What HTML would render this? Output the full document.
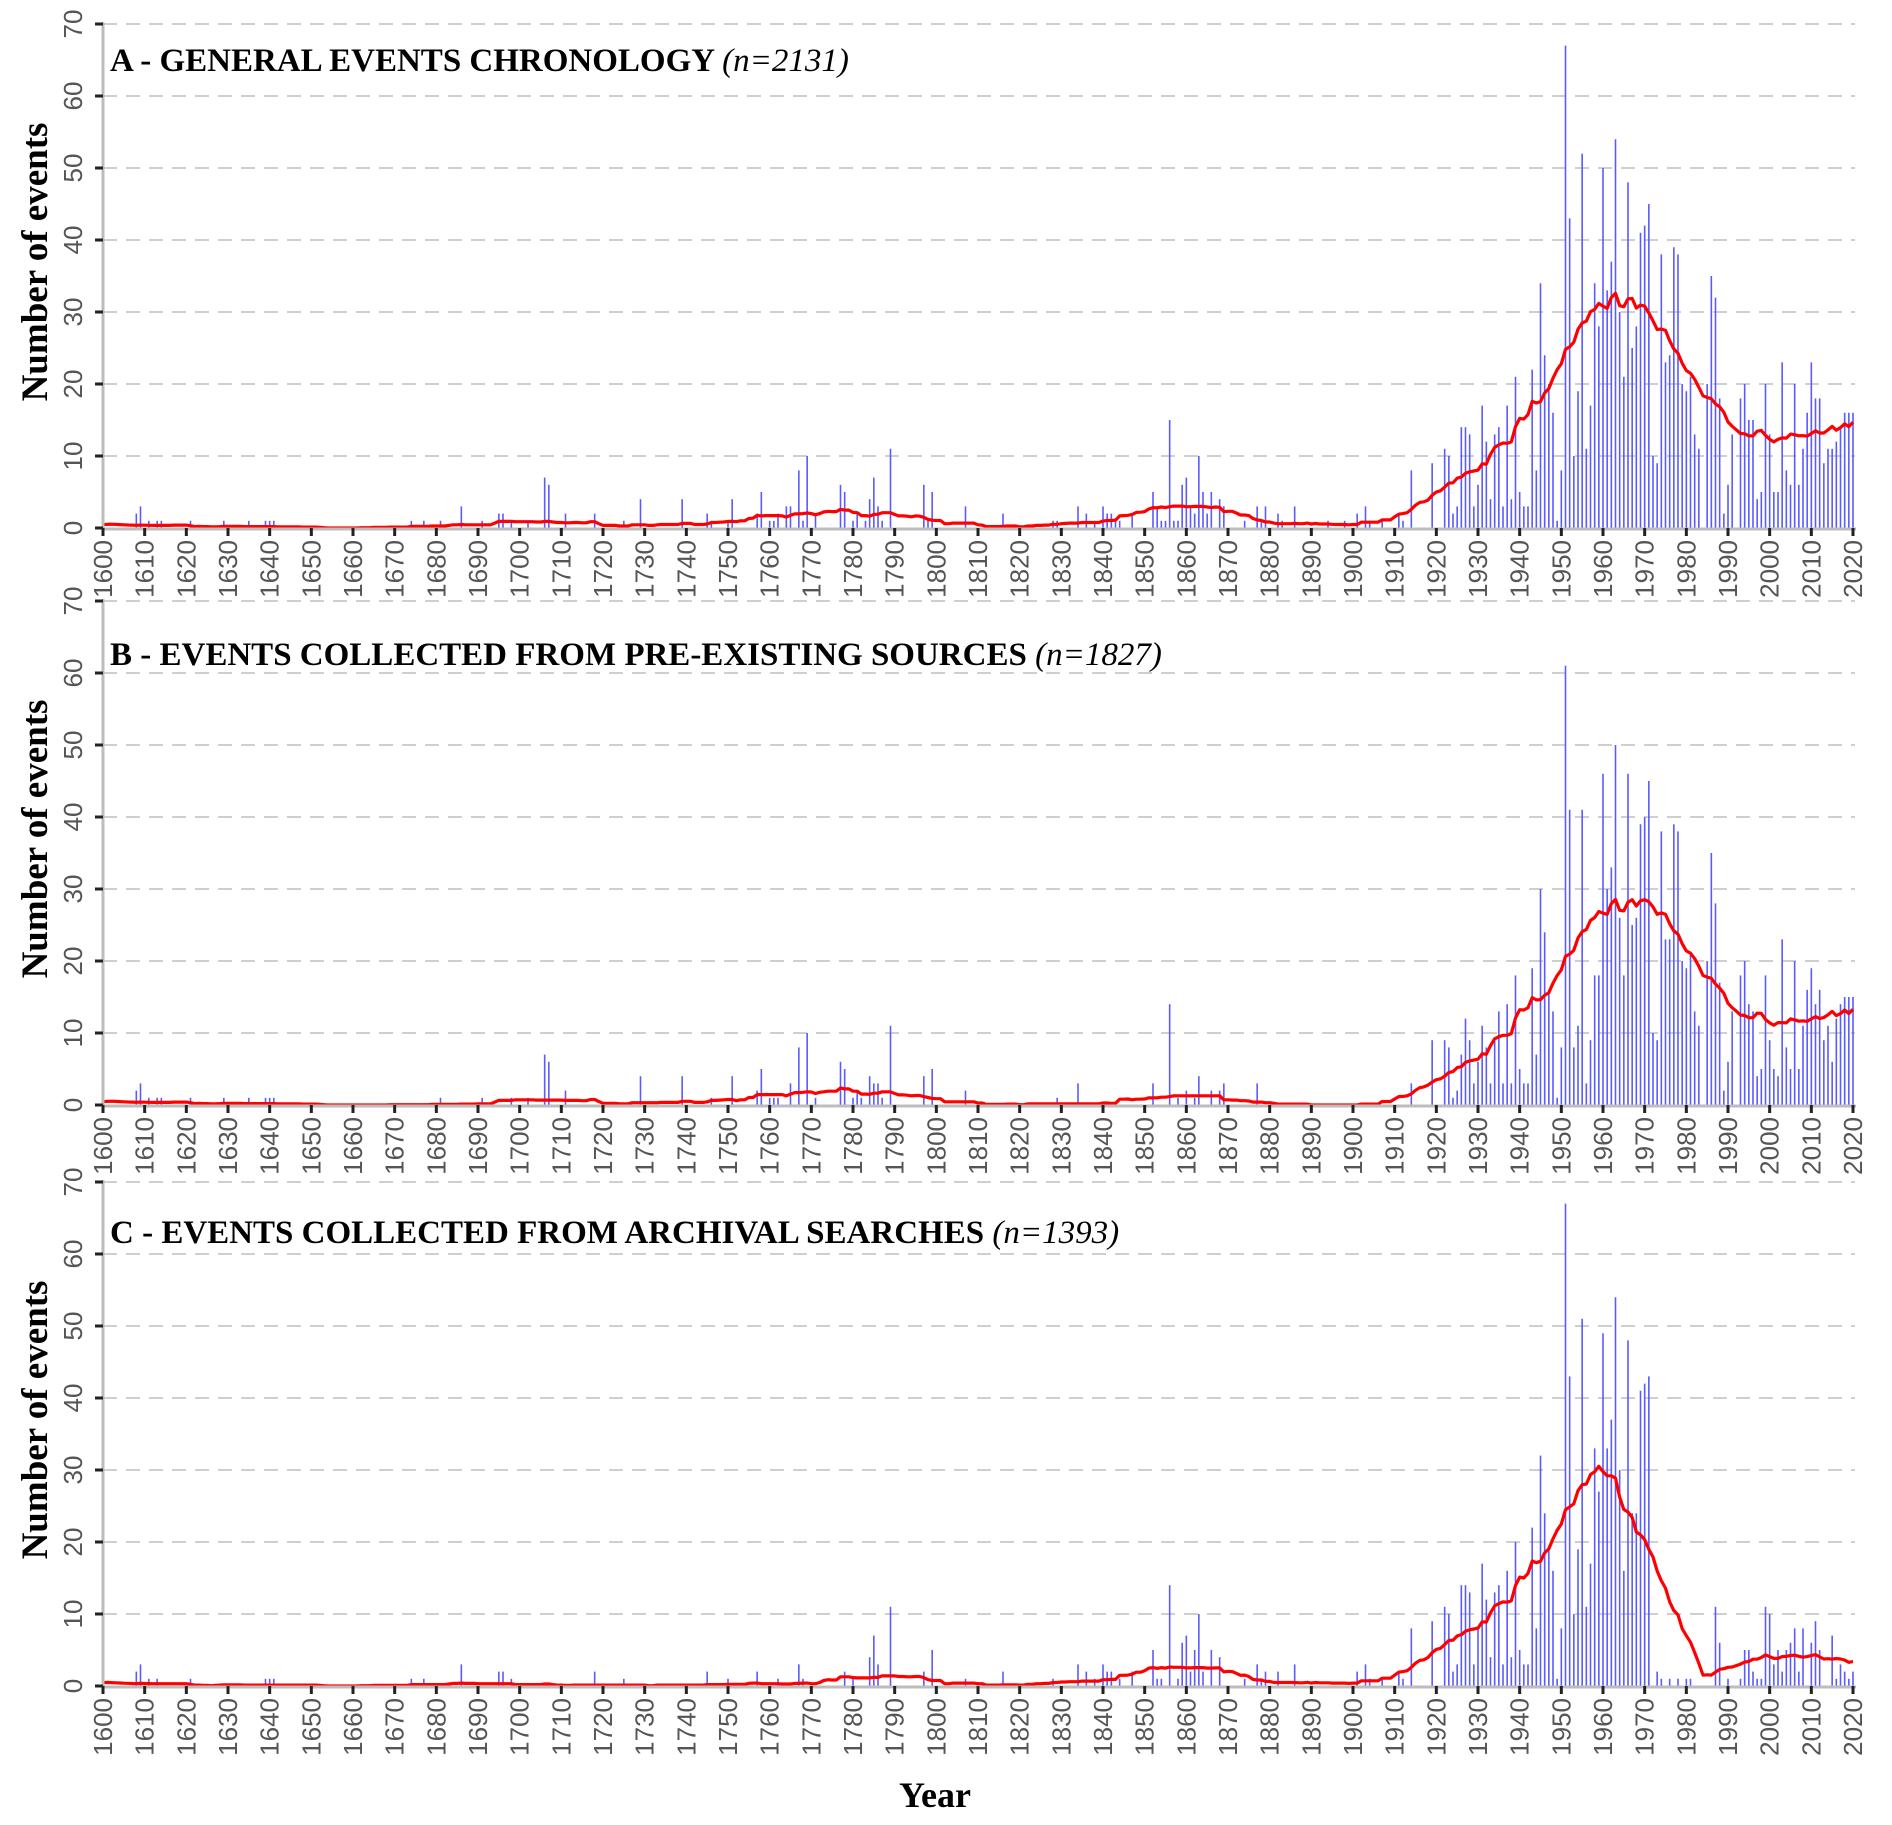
<!DOCTYPE html>
<html><head><meta charset="utf-8"><style>
html,body{margin:0;padding:0;background:#fff;}
svg{display:block;}
</style></head><body>
<svg id="chart" width="1892" height="1825" viewBox="0 0 1892 1825" xmlns="http://www.w3.org/2000/svg"></svg>
<script>
// ---- data (year, count) ----
const dataA = [[1608,2],[1609,3],[1611,1],[1613,1],[1614,1],[1621,1],[1629,1],[1635,1],[1639,1],[1640,1],[1641,1],[1674,1],[1677,1],[1681,1],[1686,3],[1691,1],[1695,2],[1696,2],[1698,1],[1702,1],[1706,7],[1707,6],[1711,2],[1718,2],[1725,1],[1729,4],[1739,4],[1745,2],[1746,1],[1750,1],[1751,4],[1757,2],[1758,5],[1760,1],[1761,1],[1762,2],[1764,3],[1765,3],[1767,8],[1768,1],[1769,10],[1771,2],[1777,6],[1778,5],[1780,1],[1781,2],[1783,1],[1784,4],[1785,7],[1786,3],[1787,1],[1789,11],[1797,6],[1798,1],[1799,5],[1807,3],[1816,2],[1828,1],[1829,1],[1834,3],[1836,2],[1838,1],[1840,3],[1841,2],[1842,2],[1843,1],[1844,1],[1847,2],[1852,5],[1853,3],[1854,1],[1855,1],[1856,15],[1857,1],[1858,1],[1859,6],[1860,7],[1861,3],[1862,2],[1863,10],[1864,5],[1865,2],[1866,5],[1868,4],[1869,3],[1874,1],[1877,3],[1878,1],[1879,3],[1882,2],[1883,1],[1886,3],[1894,1],[1898,1],
[1901,2],[1903,3],[1904,1],[1907,1],[1911,2],[1912,1],[1914,8],[1919,9],[1922,11],[1923,10],[1924,2],[1925,3],[1926,14],[1927,14],[1928,13],[1929,3],[1930,6],[1931,17],[1932,12],[1933,4],[1934,13],[1935,14],[1936,3],[1937,17],[1938,4],[1939,21],[1940,5],[1941,3],[1942,3],[1943,22],[1944,8],[1945,34],[1946,24],[1947,20],[1948,16],[1949,1],[1950,8],[1951,67],[1952,43],[1953,10],[1954,19],[1955,52],[1956,11],[1957,17],[1958,34],[1959,28],[1960,50],[1961,33],[1962,37],[1963,54],[1964,30],[1965,21],[1966,48],[1967,25],[1968,28],[1969,41],[1970,42],[1971,45],[1972,10],[1973,9],[1974,38],[1975,23],[1976,24],[1977,39],[1978,38],[1979,20],[1980,19],[1981,21],[1982,13],[1983,11],[1985,20],[1986,35],[1987,32],[1988,18],[1989,2],[1990,6],[1991,13],[1993,18],[1994,20],[1995,15],[1996,15],[1997,4],[1998,5],[1999,20],[2000,13],[2001,5],[2002,5],[2003,23],[2004,8],[2005,6],[2006,20],[2007,6],[2008,11],[2009,16],[2010,23],[2011,18],[2012,18],[2013,9],[2014,11],[2015,11],[2016,12],[2017,14],[2018,16],[2019,16],[2020,16]];

const dataB = [[1608,2],[1609,3],[1611,1],[1613,1],[1614,1],[1621,1],[1629,1],[1635,1],[1639,1],[1640,1],[1641,1],[1681,1],[1691,1],[1698,1],[1702,1],[1706,7],[1707,6],[1711,2],[1729,4],[1739,4],[1746,1],[1751,4],[1757,2],[1758,5],[1760,1],[1761,1],[1762,1],[1765,3],[1767,8],[1769,10],[1771,1],[1777,6],[1778,5],[1780,1],[1781,2],[1782,1],[1784,4],[1785,3],[1786,3],[1787,1],[1789,11],[1797,4],[1799,5],[1807,2],[1829,1],[1834,3],[1852,3],[1856,14],[1858,1],[1860,2],[1862,1],[1863,4],[1866,2],[1868,2],[1869,3],[1877,3],
[1914,3],[1919,9],[1922,9],[1923,8],[1924,1],[1925,2],[1926,7],[1927,12],[1928,9],[1929,3],[1930,6],[1931,11],[1932,8],[1933,3],[1934,9],[1935,13],[1936,3],[1937,14],[1938,3],[1939,18],[1940,5],[1941,3],[1942,3],[1943,19],[1944,7],[1945,30],[1946,24],[1947,16],[1948,13],[1949,1],[1950,8],[1951,61],[1952,41],[1953,8],[1954,11],[1955,41],[1956,3],[1957,9],[1958,18],[1959,18],[1960,46],[1961,30],[1962,33],[1963,50],[1964,26],[1965,18],[1966,46],[1967,25],[1968,26],[1969,39],[1970,40],[1971,45],[1972,10],[1973,9],[1974,38],[1975,23],[1976,23],[1977,39],[1978,38],[1979,20],[1980,19],[1981,21],[1982,13],[1983,11],[1985,20],[1986,35],[1987,28],[1988,17],[1989,2],[1990,6],[1991,13],[1993,18],[1994,20],[1995,14],[1996,13],[1997,4],[1998,5],[1999,18],[2000,9],[2001,5],[2002,4],[2003,23],[2004,8],[2005,5],[2006,20],[2007,5],[2008,11],[2009,16],[2010,19],[2011,14],[2012,16],[2013,9],[2014,11],[2015,6],[2016,12],[2017,14],[2018,15],[2019,15],[2020,15]];

const dataC = [[1608,2],[1609,3],[1611,1],[1613,1],[1621,1],[1639,1],[1640,1],[1641,1],[1674,1],[1677,1],[1686,3],[1695,2],[1696,2],[1698,1],[1718,2],[1725,1],[1745,2],[1750,1],[1757,2],[1762,1],[1767,3],[1768,1],[1778,2],[1780,1],[1784,4],[1785,7],[1786,3],[1789,11],[1797,2],[1799,5],[1807,1],[1816,2],[1828,1],[1834,3],[1836,2],[1838,1],[1840,3],[1841,2],[1842,2],[1844,1],[1847,2],[1852,5],[1853,1],[1854,1],[1856,14],[1858,1],[1859,6],[1860,7],[1861,2],[1862,5],[1863,10],[1864,2],[1866,5],[1868,4],[1874,1],[1877,3],[1878,1],[1879,2],[1882,2],[1886,3],
[1901,2],[1903,3],[1904,1],[1907,1],[1911,2],[1912,1],[1914,8],[1919,9],[1922,11],[1923,10],[1924,2],[1925,3],[1926,14],[1927,14],[1928,13],[1929,3],[1930,8],[1931,17],[1932,12],[1933,4],[1934,13],[1935,14],[1936,3],[1937,16],[1938,4],[1939,20],[1940,5],[1941,3],[1942,3],[1943,22],[1944,8],[1945,32],[1946,24],[1947,19],[1948,16],[1949,1],[1950,8],[1951,67],[1952,43],[1953,10],[1954,19],[1955,51],[1956,11],[1957,17],[1958,33],[1959,27],[1960,49],[1961,33],[1962,37],[1963,54],[1964,30],[1965,16],[1966,48],[1967,24],[1968,24],[1969,41],[1970,42],[1971,43],[1973,2],[1974,1],[1976,1],[1978,1],[1980,1],[1981,1],[1987,11],[1988,6],[1990,1],[1993,1],[1994,5],[1995,5],[1996,2],[1997,1],[1998,1],[1999,11],[2000,10],[2001,3],[2002,5],[2003,2],[2004,5],[2005,6],[2006,8],[2007,2],[2008,8],[2010,6],[2011,9],[2012,5],[2015,7],[2016,1],[2017,3],[2018,2],[2019,1],[2020,2]];

const yTicks = [0,10,20,30,40,50,60,70];
const xTickYears = [];
for (let y = 1600; y <= 2020; y += 10) xTickYears.push(y);

const panelTitles = ["A - GENERAL EVENTS CHRONOLOGY", "B - EVENTS COLLECTED FROM PRE-EXISTING SOURCES", "C - EVENTS COLLECTED FROM ARCHIVAL SEARCHES"];
const panelCounts = ["(n=2131)", "(n=1827)", "(n=1393)"];

// ---- layout ----
const NS = "http://www.w3.org/2000/svg";
const svg = document.getElementById('chart');
const X0 = 103, X1 = 1853, YMIN = 1600, YMAX = 2020;
const panels = [
  {data: dataA, base: 528, titleY: 71, key: 'a'},
  {data: dataB, base: 1105, titleY: 665, key: 'b'},
  {data: dataC, base: 1686, titleY: 1243, key: 'c'}
];
const PH = 504, VMAX = 70;
function xs(year){ return X0 + (year - YMIN) * (X1 - X0) / (YMAX - YMIN); }
function mk(tag, attrs, parent){
  const e = document.createElementNS(NS, tag);
  for (const k in attrs) e.setAttribute(k, attrs[k]);
  (parent || svg).appendChild(e);
  return e;
}
function movingAvg(data, half){
  const arr = {};
  data.forEach(d => { arr[d[0]] = (arr[d[0]] || 0) + d[1]; });
  const pts = [];
  for (let y = YMIN; y <= YMAX; y++){
    let s = 0, n = 0;
    for (let k = y - half; k <= y + half; k++){
      if (k < YMIN || k > YMAX) continue;
      s += arr[k] || 0; n++;
    }
    pts.push([y, s / n]);
  }
  return pts;
}

panels.forEach((p, i) => {
  const base = p.base;
  const top = base - PH;
  const ys = v => base - v * PH / VMAX;
  const g = mk('g', {});
  
  

  yTicks.forEach(t => {
    if (t === 0) return;
    const l = mk('line', {x1: X0, x2: X1 + 2, y1: ys(t), y2: ys(t), stroke: '#cfcfcf', 'stroke-width': 2, 'stroke-dasharray': '14 9'}, g);
    
    
  });

  p.data.forEach(d => {
    const b = mk('line', {x1: xs(d[0]), x2: xs(d[0]), y1: base, y2: ys(d[1]), stroke: '#5a5aff', 'stroke-width': 1.6}, g);
    
    
  });

  const ma = movingAvg(p.data, 12);
  const pl = mk('polyline', {points: ma.map(q => xs(q[0]).toFixed(1) + ',' + ys(q[1]).toFixed(1)).join(' '), fill: 'none', stroke: '#ff0000', 'stroke-width': 3.2, 'stroke-linejoin': 'round'}, g);
  
  

  const ax = mk('line', {x1: X0, x2: X0, y1: top - 2, y2: base, stroke: '#bdbdbd', 'stroke-width': 3}, g);
  
  
  const bx = mk('line', {x1: X0, x2: X1 + 3, y1: base + 1, y2: base + 1, stroke: '#bdbdbd', 'stroke-width': 3}, g);
  
  

  yTicks.forEach(t => {
    const tk = mk('line', {x1: X0 - 8, x2: X0, y1: ys(t), y2: ys(t), stroke: '#222', 'stroke-width': 3}, g);
    
    
    const tx = mk('text', {x: 0, y: 0, transform: 'translate(82,' + ys(t) + ') rotate(-90)', 'text-anchor': 'middle', 'font-family': 'Liberation Sans, sans-serif', 'font-size': 26, fill: '#555'}, g);
    tx.textContent = t;
    
    
  });

  xTickYears.forEach(yr => {
    const tk = mk('line', {x1: xs(yr), x2: xs(yr), y1: base, y2: base + 8, stroke: '#222', 'stroke-width': 3}, g);
    
    
    const tx = mk('text', {x: 0, y: 0, transform: 'translate(' + (xs(yr) + 9) + ',' + (base + 12) + ') rotate(-90)', 'text-anchor': 'end', 'font-family': 'Liberation Sans, sans-serif', 'font-size': 26, fill: '#555'}, g);
    tx.textContent = yr;
    
    
  });

  const ti = mk('text', {x: 110, y: p.titleY, 'font-family': 'Liberation Serif, serif', 'font-size': 33, 'font-weight': 'bold', fill: '#000'}, g);
  
  
  ti.textContent = panelTitles[i] + ' ';
  const ts = mk('tspan', {'font-style': 'italic', 'font-weight': 'normal'}, ti);
  ts.textContent = panelCounts[i];
  
  

  const yt = mk('text', {x: 0, y: 0, transform: 'translate(47,' + (top + PH / 2 - 14) + ') rotate(-90)', 'text-anchor': 'middle', 'font-family': 'Liberation Serif, serif', 'font-size': 37, 'font-weight': 'bold', fill: '#000'}, g);
  yt.textContent = 'Number of events';
  
  
});

const xt = mk('text', {x: 935, y: 1807, 'text-anchor': 'middle', 'font-family': 'Liberation Serif, serif', 'font-size': 36, 'font-weight': 'bold', fill: '#000'});
xt.textContent = 'Year';


</script>
</body></html>
